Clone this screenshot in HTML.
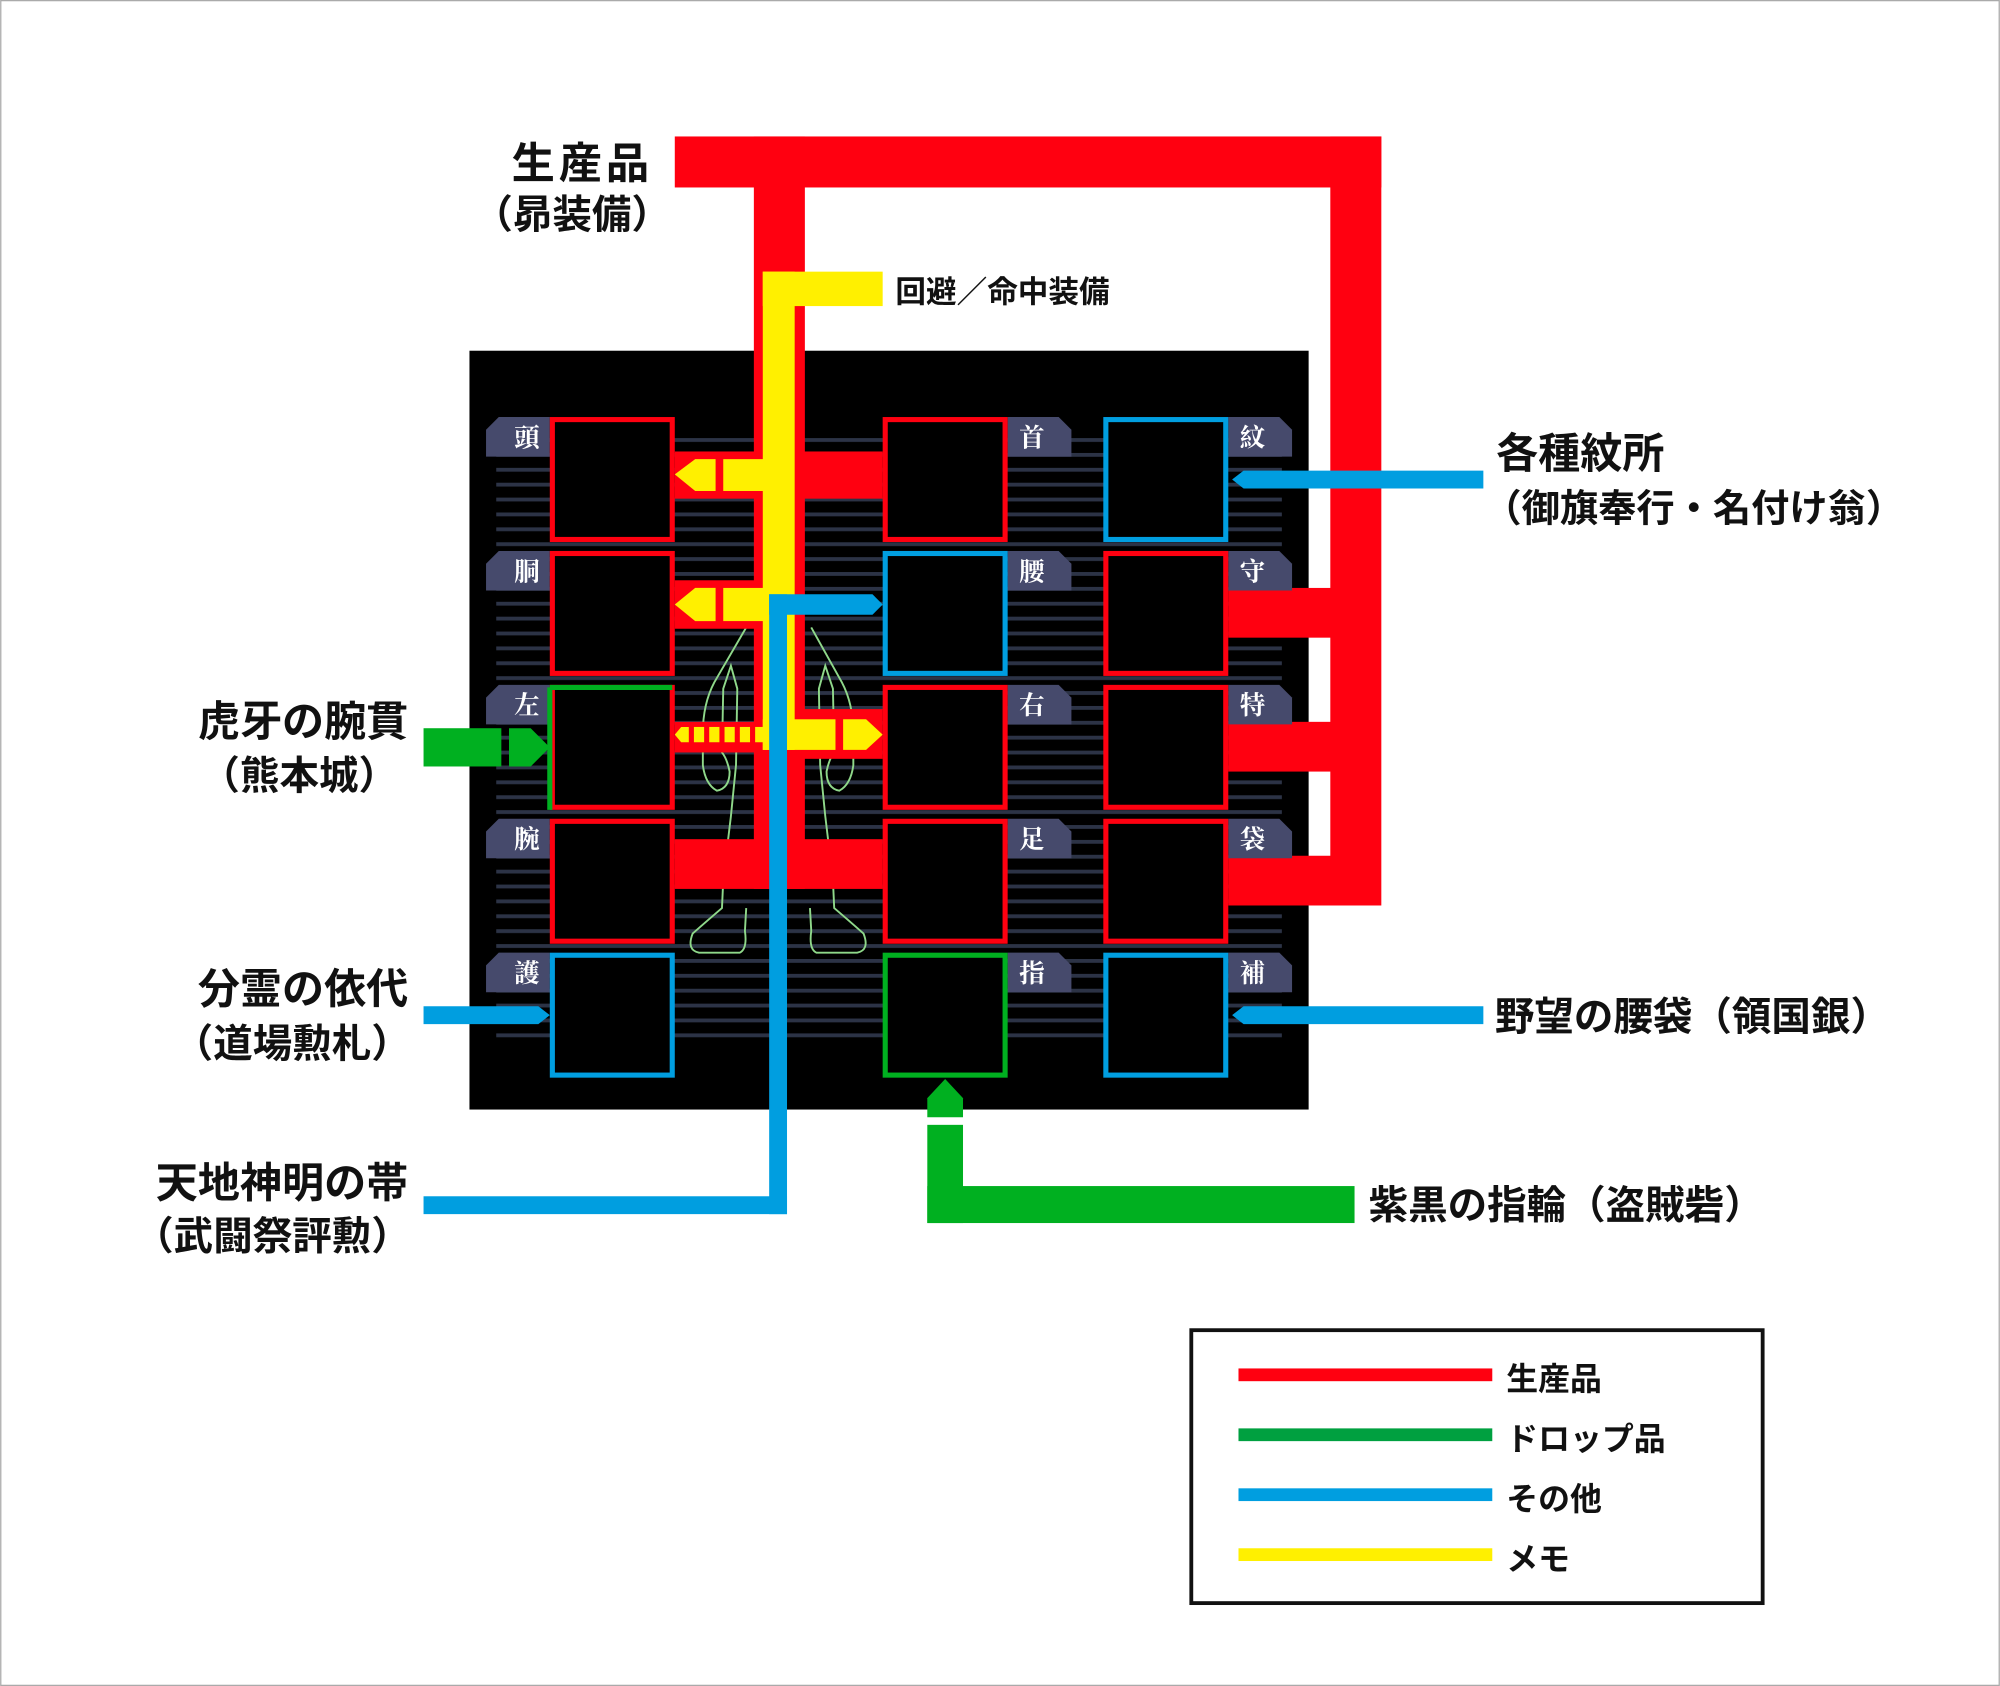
<!DOCTYPE html>
<html><head><meta charset="utf-8"><style>
html,body{margin:0;padding:0;background:#fff}
svg{display:block}
text{font-family:"Liberation Sans","Noto Sans CJK JP",sans-serif;font-weight:bold;fill:#111}
.tab{font-family:"Noto Serif CJK SC","Noto Sans CJK JP",serif;fill:#fff;font-size:20px;font-weight:bold}
</style></head><body>
<svg width="2000" height="1686" viewBox="0 0 1568 1322" xmlns="http://www.w3.org/2000/svg">
<defs>
<pattern id="st" x="0" y="343.5" width="20" height="11.67" patternUnits="userSpaceOnUse">
<rect x="0" y="0" width="20" height="3" fill="#2c3346"/>
</pattern>
</defs>
<rect x="0.5" y="0.5" width="1567" height="1321" fill="#fff" stroke="#aaa" stroke-width="1"/>
<rect x="368" y="275" width="658" height="595" fill="#000"/>
<rect x="389" y="343" width="616" height="472" fill="url(#st)"/>
<g fill="none" stroke="#8fd88a" stroke-width="1.5">
<path d="M585,492 L560,535 Q551,552 551,575 L551,600 Q553,615 562,620 Q572,618 572,605 Q570,595 566,590 L567,540 L573,522 L578,540 L577,600 L573,640 L567,690 L566,712 Q552,724 543,732 Q538,745 548,747 L580,747 Q586,744 584,730 L585,712"/>
<path d="M636,492 L660,535 Q669,552 669,575 L669,600 Q667,615 658,620 Q648,618 648,605 Q650,595 654,590 L653,540 L647,522 L642,540 L643,600 L647,640 L653,690 L654,712 Q668,724 677,732 Q682,745 672,747 L640,747 Q634,744 636,730 L635,712"/>
</g>
<g fill="#ff0010">
<rect x="529" y="107" width="554" height="40"/>
<rect x="1043" y="107" width="40" height="603"/>
<rect x="591" y="107" width="40" height="590"/>
<rect x="529" y="354" width="163" height="37"/>
<rect x="529" y="455" width="70" height="38"/>
<rect x="600" y="556" width="92" height="39"/>
<rect x="529" y="566" width="70" height="24"/>
<rect x="529" y="658" width="163" height="39"/>
<rect x="963" y="461" width="100" height="39"/>
<rect x="963" y="566" width="100" height="39"/>
<rect x="963" y="671" width="100" height="39"/>
</g>
<g fill="#fff000">
<rect x="598" y="213" width="94" height="27"/>
<rect x="598" y="213" width="25" height="375"/>
<rect x="567" y="360" width="32" height="25"/>
<polygon points="529,372 545,360 561,360 561,385 545,385"/>
<rect x="567" y="461" width="32" height="26"/>
<polygon points="529,474 545,461 561,461 561,487 545,487"/>
<rect x="598" y="564" width="57" height="24"/>
<polygon points="661,564 679,564 692,576 679,588 661,588"/>
<polygon points="529,576 534,570 540,570 540,582 534,582"/>
<rect x="544" y="570" width="8" height="12"/>
<rect x="556" y="570" width="8" height="12"/>
<rect x="568" y="570" width="8" height="12"/>
<rect x="580" y="570" width="8" height="12"/>
<rect x="592" y="570" width="8" height="12"/>
</g>
<g fill="#009ee0">
<rect x="332" y="938" width="285" height="14"/>
<rect x="603" y="466" width="14" height="486"/>
<polygon points="603,466 684,466 692,474 684,482 603,482"/>
<polygon points="1163,369 975,369 966,376 975,383 1163,383"/>
<polygon points="1163,789 975,789 966,796 975,803 1163,803"/>
<polygon points="332,789 422,789 431,796 422,803 332,803"/>
</g>
<g fill="#00b020">
<rect x="332" y="571" width="61" height="30"/>
<polygon points="399,571 416,571 431,586 416,601 399,601"/>
<rect x="727" y="930" width="335" height="29"/>
<rect x="727" y="882" width="28" height="77"/>
<polygon points="727,876 727,861 741,846 755,861 755,876"/>
</g>
<g fill="#464a6c">
<path d="M391,327 L431,327 L431,358 L381,358 L381,337 Z"/>
<path d="M391,432 L431,432 L431,463 L381,463 L381,442 Z"/>
<path d="M391,537 L431,537 L431,568 L381,568 L381,547 Z"/>
<path d="M391,642 L431,642 L431,673 L381,673 L381,652 Z"/>
<path d="M391,747 L431,747 L431,778 L381,778 L381,757 Z"/>
<path d="M790,327 L830,327 L840,337 L840,358 L790,358 Z"/>
<path d="M790,432 L830,432 L840,442 L840,463 L790,463 Z"/>
<path d="M790,537 L830,537 L840,547 L840,568 L790,568 Z"/>
<path d="M790,642 L830,642 L840,652 L840,673 L790,673 Z"/>
<path d="M790,747 L830,747 L840,757 L840,778 L790,778 Z"/>
<path d="M963,327 L1003,327 L1013,337 L1013,358 L963,358 Z"/>
<path d="M963,432 L1003,432 L1013,442 L1013,463 L963,463 Z"/>
<path d="M963,537 L1003,537 L1013,547 L1013,568 L963,568 Z"/>
<path d="M963,642 L1003,642 L1013,652 L1013,673 L963,673 Z"/>
<path d="M963,747 L1003,747 L1013,757 L1013,778 L963,778 Z"/>
</g>
<g>
<text class="tab" x="413" y="350" text-anchor="middle">頭</text>
<text class="tab" x="413" y="455" text-anchor="middle">胴</text>
<text class="tab" x="413" y="560" text-anchor="middle">左</text>
<text class="tab" x="413" y="665" text-anchor="middle">腕</text>
<text class="tab" x="413" y="770" text-anchor="middle">護</text>
<text class="tab" x="809" y="350" text-anchor="middle">首</text>
<text class="tab" x="809" y="455" text-anchor="middle">腰</text>
<text class="tab" x="809" y="560" text-anchor="middle">右</text>
<text class="tab" x="809" y="665" text-anchor="middle">足</text>
<text class="tab" x="809" y="770" text-anchor="middle">指</text>
<text class="tab" x="982" y="350" text-anchor="middle">紋</text>
<text class="tab" x="982" y="455" text-anchor="middle">守</text>
<text class="tab" x="982" y="560" text-anchor="middle">特</text>
<text class="tab" x="982" y="665" text-anchor="middle">袋</text>
<text class="tab" x="982" y="770" text-anchor="middle">補</text>
</g>
<g fill="#000" stroke-width="4">
<rect x="433" y="329" width="94" height="94" stroke="#ff0010"/>
<rect x="433" y="434" width="94" height="94" stroke="#ff0010"/>
<rect x="433" y="539" width="94" height="94" stroke="#ff0010"/>
<path d="M431,539 L431,635 M431,539 L527,539" stroke="#00b020" fill="none"/>
<rect x="433" y="644" width="94" height="94" stroke="#ff0010"/>
<rect x="433" y="749" width="94" height="94" stroke="#009ee0"/>
<rect x="694" y="329" width="94" height="94" stroke="#ff0010"/>
<rect x="694" y="434" width="94" height="94" stroke="#009ee0"/>
<rect x="694" y="539" width="94" height="94" stroke="#ff0010"/>
<rect x="694" y="644" width="94" height="94" stroke="#ff0010"/>
<rect x="694" y="749" width="94" height="94" stroke="#00b020"/>
<rect x="867" y="329" width="94" height="94" stroke="#009ee0"/>
<rect x="867" y="434" width="94" height="94" stroke="#ff0010"/>
<rect x="867" y="539" width="94" height="94" stroke="#ff0010"/>
<rect x="867" y="644" width="94" height="94" stroke="#ff0010"/>
<rect x="867" y="749" width="94" height="94" stroke="#009ee0"/>
</g>
<text x="512" y="140" font-size="34" text-anchor="end" letter-spacing="3">生産品</text>
<text x="526" y="179" font-size="31" text-anchor="end">（昴装備）</text>
<text x="702" y="237" font-size="24">回避／命中装備</text>
<text x="1173" y="367" font-size="33">各種紋所</text>
<text x="1163" y="409" font-size="30">（御旗奉行・名付け翁）</text>
<text x="320" y="577" font-size="33" text-anchor="end">虎牙の腕貫</text>
<text x="312" y="619" font-size="31" text-anchor="end">（熊本城）</text>
<text x="320" y="787" font-size="33" text-anchor="end">分霊の依代</text>
<text x="322" y="829" font-size="31" text-anchor="end">（道場勲札）</text>
<text x="320" y="939" font-size="33" text-anchor="end">天地神明の帯</text>
<text x="322" y="980" font-size="31" text-anchor="end">（武闘祭評勲）</text>
<text x="1172" y="808" font-size="31">野望の腰袋（領国銀）</text>
<text x="1073" y="956" font-size="31">紫黒の指輪（盗賊砦）</text>
<rect x="934" y="1043" width="448" height="214" fill="#fff" stroke="#111" stroke-width="3"/>
<rect x="971" y="1073" width="199" height="10" fill="#ff0010"/>
<rect x="971" y="1120" width="199" height="10" fill="#00a040"/>
<rect x="971" y="1167" width="199" height="10" fill="#009ee0"/>
<rect x="971" y="1214" width="199" height="10" fill="#fff000"/>
<text x="1181" y="1090" font-size="25">生産品</text>
<text x="1181" y="1137" font-size="25">ドロップ品</text>
<text x="1181" y="1184" font-size="25">その他</text>
<text x="1181" y="1231" font-size="25">メモ</text>
</svg>
</body></html>
